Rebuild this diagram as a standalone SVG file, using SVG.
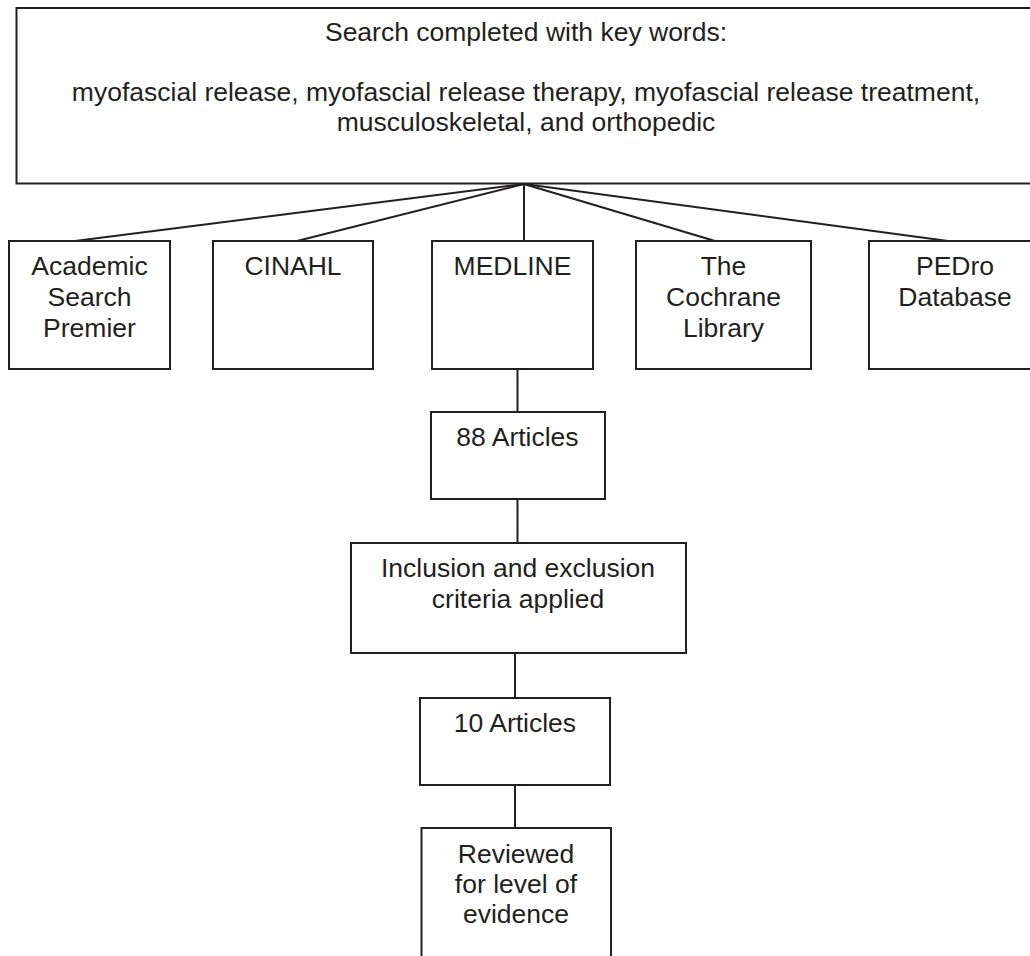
<svg xmlns="http://www.w3.org/2000/svg" width="1030" height="956" viewBox="0 0 1030 956">
<style>
.box{fill:#ffffff;stroke:#231f20;stroke-width:2}
.conn line{stroke:#231f20;stroke-width:2}
text{font-family:"Liberation Sans",Arial,sans-serif;font-size:26.5px;fill:#231f20;text-anchor:middle}
</style>
<rect width="1030" height="956" fill="#ffffff"/>
<g id="conn" class="conn">
<line x1="524" y1="184" x2="75" y2="241"/>
<line x1="524" y1="184" x2="297" y2="241"/>
<line x1="524" y1="184" x2="524" y2="241"/>
<line x1="524" y1="184" x2="715" y2="241"/>
<line x1="524" y1="184" x2="948" y2="241"/>
<line x1="517.5" y1="369" x2="517.5" y2="412"/>
<line x1="517.5" y1="499" x2="517.5" y2="543"/>
<line x1="515" y1="653" x2="515" y2="698"/>
<line x1="515" y1="785" x2="515" y2="828"/>
</g>
<g id="search">
<rect class="box" x="16.5" y="8" width="1030" height="175.5"/>
<text x="526" y="41">Search completed with key words:</text>
<text x="526" y="101">myofascial release, myofascial release therapy, myofascial release treatment,</text>
<text x="526" y="131">musculoskeletal, and orthopedic</text>
</g>
<g id="academic">
<rect class="box" x="9" y="241" width="161" height="128"/>
<text x="89.5" y="275">Academic</text>
<text x="89.5" y="306">Search</text>
<text x="89.5" y="337">Premier</text>
</g>
<g id="cinahl">
<rect class="box" x="213" y="241" width="160" height="128"/>
<text x="293" y="275">CINAHL</text>
</g>
<g id="medline">
<rect class="box" x="432" y="241" width="161" height="128"/>
<text x="512.5" y="275">MEDLINE</text>
</g>
<g id="cochrane">
<rect class="box" x="636" y="241" width="175" height="128"/>
<text x="723.5" y="275">The</text>
<text x="723.5" y="306">Cochrane</text>
<text x="723.5" y="337">Library</text>
</g>
<g id="pedro">
<rect class="box" x="869" y="241" width="200" height="128"/>
<text x="955" y="275">PEDro</text>
<text x="955" y="306">Database</text>
</g>
<g id="articles88">
<rect class="box" x="431" y="412" width="174" height="87"/>
<text x="517.5" y="446">88 Articles</text>
</g>
<g id="criteria">
<rect class="box" x="351" y="543" width="335" height="110"/>
<text x="518" y="577">Inclusion and exclusion</text>
<text x="518" y="608">criteria applied</text>
</g>
<g id="articles10">
<rect class="box" x="420" y="698" width="190" height="87"/>
<text x="515" y="732">10 Articles</text>
</g>
<g id="reviewed">
<rect class="box" x="421.5" y="828" width="189.5" height="160"/>
<text x="516" y="863">Reviewed</text>
<text x="516" y="893">for level of</text>
<text x="516" y="923">evidence</text>
</g>
</svg>
